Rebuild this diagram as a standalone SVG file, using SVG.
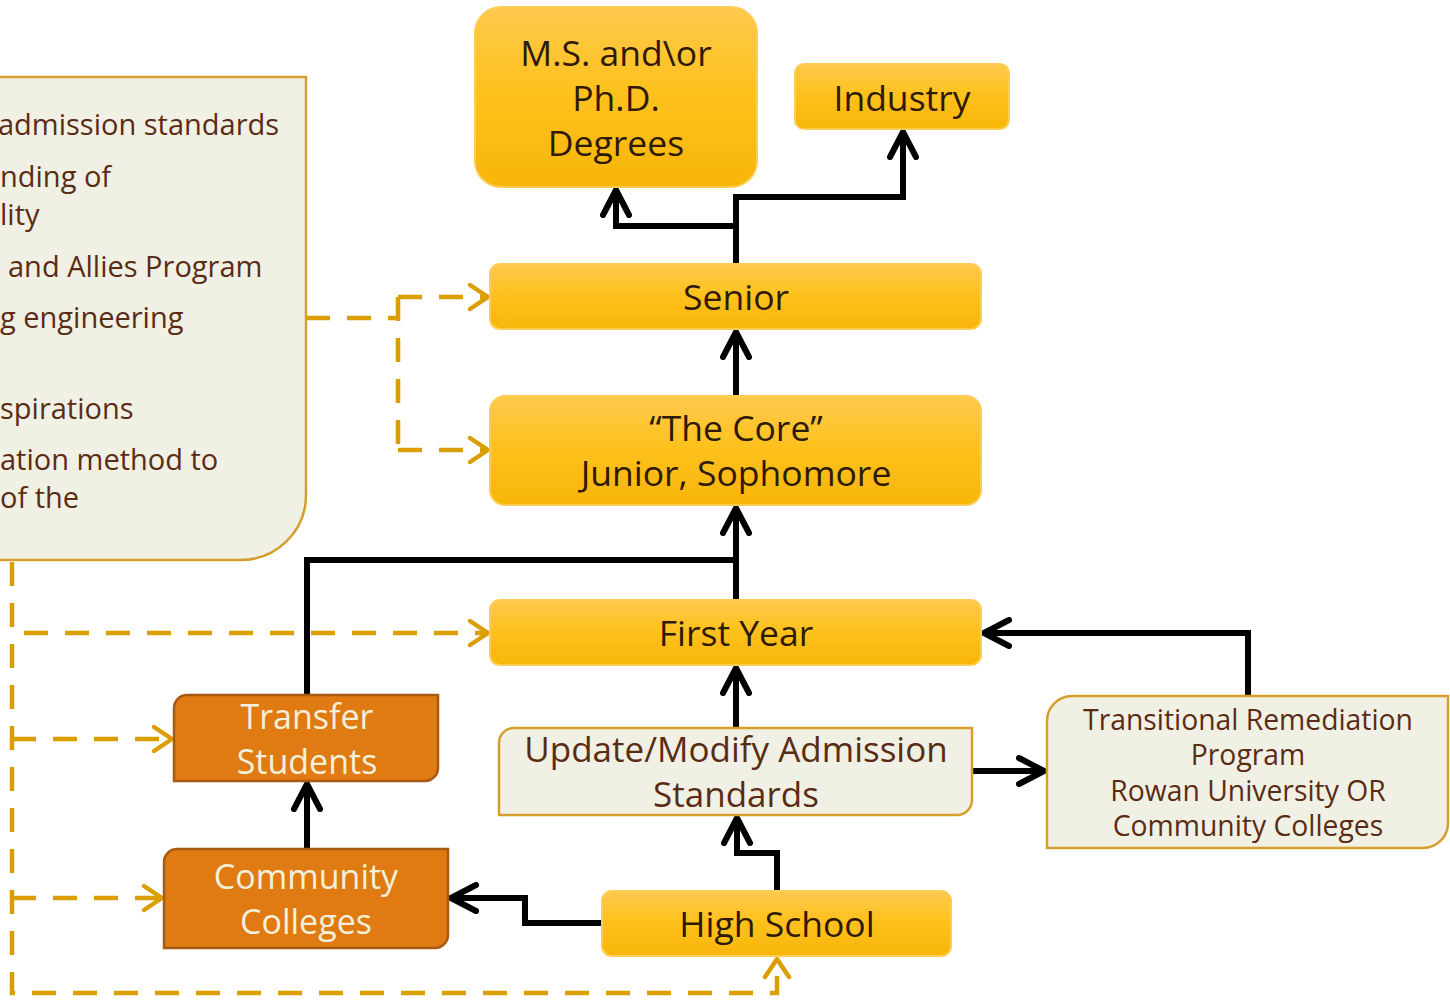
<svg xmlns="http://www.w3.org/2000/svg" width="1450" height="1000" viewBox="0 0 1450 1000">
  <defs>
    <linearGradient id="gold" x1="0" y1="0" x2="0" y2="1">
      <stop offset="0" stop-color="#FFC94F"/>
      <stop offset="0.45" stop-color="#FEC21E"/>
      <stop offset="1" stop-color="#F8B509"/>
    </linearGradient>
    <marker id="arrBlack" viewBox="0 0 32 32" refX="28" refY="16" markerWidth="32" markerHeight="32" markerUnits="userSpaceOnUse" orient="auto">
      <path d="M3,3 L28,16 L3,29" fill="none" stroke="#000" stroke-width="6" stroke-linecap="round" stroke-linejoin="round"/>
    </marker>
    <marker id="arrGold" viewBox="0 0 32 32" refX="26" refY="16" markerWidth="32" markerHeight="32" markerUnits="userSpaceOnUse" orient="auto">
      <path d="M8,4 L26,16 L8,28" fill="none" stroke="#DA9E00" stroke-width="4.5" stroke-linecap="round" stroke-linejoin="round"/>
    </marker>
  </defs>
  <style>
    text { font-family: "Open Sans", "DejaVu Sans", sans-serif; text-anchor: middle; }
    .yel { fill: url(#gold); stroke: #FFCC52; stroke-width: 2; }
    .yt { fill: #2E1A07; font-size: 35.5px; }
    .cream { fill: #F1F0E4; stroke: #D69E2C; stroke-width: 2.5; }
    .ct { fill: #5A2C14; }
    .orange { fill: #DF7B12; stroke: #A95A12; stroke-width: 2.5; }
    .ot { fill: #F3F0DA; font-size: 34px; }
    .side { fill: #5A2C14; font-size: 29px; text-anchor: start; }
    .link { fill: none; stroke: #000; stroke-width: 6; stroke-linejoin: miter; }
    .dash { fill: none; stroke: #DA9E00; stroke-width: 4.5; stroke-dasharray: 24 17; }
  </style>

  <!-- side panel with goals, cut at the left edge -->
  <g id="goals">
    <path class="cream" d="M-20,77 H306 V495 A65,65 0 0 1 241,560 H-20 Z"/>
    <text class="side" x="-2" y="135">admission standards</text>
    <text class="side" x="0" y="187">nding of</text>
    <text class="side" x="0" y="225">lity</text>
    <text class="side" x="8" y="277">and Allies Program</text>
    <text class="side" x="0" y="328">g engineering</text>
    <text class="side" x="0" y="419">spirations</text>
    <text class="side" x="0" y="470">ation method to</text>
    <text class="side" x="0" y="508">of the</text>
  </g>

  <!-- connectors -->
  <g id="connectors">
    <path class="link" d="M736,264 V226 H616 V190" marker-end="url(#arrBlack)"/>
    <path class="link" d="M736,226 V197 H903 V132" marker-end="url(#arrBlack)"/>
    <path class="link" d="M736,396 V332" marker-end="url(#arrBlack)"/>
    <path class="link" d="M736,600 V508" marker-end="url(#arrBlack)"/>
    <path class="link" d="M307,695 V560 H736"/>
    <path class="link" d="M736,728 V668" marker-end="url(#arrBlack)"/>
    <path class="link" d="M777,891 V853 H737 V818" marker-end="url(#arrBlack)"/>
    <path class="link" d="M602,923 H525 V898 H451" marker-end="url(#arrBlack)"/>
    <path class="link" d="M307,849 V784" marker-end="url(#arrBlack)"/>
    <path class="link" d="M972,771 H1044" marker-end="url(#arrBlack)"/>
    <path class="link" d="M1248,696 V633 H984" marker-end="url(#arrBlack)"/>

    <path class="dash" d="M306,318 H398"/>
    <path class="dash" d="M398,297 V450"/>
    <path class="dash" d="M398,297 H488" marker-end="url(#arrGold)"/>
    <path class="dash" d="M398,450 H488" marker-end="url(#arrGold)"/>
    <path class="dash" d="M12,562 V993 H777 V959" marker-end="url(#arrGold)"/>
    <path class="dash" d="M24,633 H488" marker-end="url(#arrGold)"/>
    <path class="dash" d="M12,739 H172" marker-end="url(#arrGold)"/>
    <path class="dash" d="M12,898 H162" marker-end="url(#arrGold)"/>
  </g>

  <g id="degrees">
    <rect class="yel" x="475" y="7" width="282" height="180" rx="26"/>
    <text class="yt" x="616" y="66">M.S. and\or</text>
    <text class="yt" x="616" y="111">Ph.D.</text>
    <text class="yt" x="616" y="156">Degrees</text>
  </g>
  <g id="industry">
    <rect class="yel" x="795" y="64" width="214" height="65" rx="9"/>
    <text class="yt" x="902" y="111">Industry</text>
  </g>
  <g id="senior">
    <rect class="yel" x="490" y="264" width="491" height="65" rx="10"/>
    <text class="yt" x="736" y="310">Senior</text>
  </g>
  <g id="core">
    <rect class="yel" x="490" y="396" width="491" height="109" rx="15"/>
    <text class="yt" x="736" y="441">“The Core”</text>
    <text class="yt" x="736" y="486">Junior, Sophomore</text>
  </g>
  <g id="first-year">
    <rect class="yel" x="490" y="600" width="491" height="65" rx="10"/>
    <text class="yt" x="736" y="646">First Year</text>
  </g>
  <g id="admission">
    <path class="cream" d="M514,728 H972 V800 A15,15 0 0 1 957,815 H499 V743 A15,15 0 0 1 514,728 Z"/>
    <text class="ct" x="736" y="762" font-size="35">Update/Modify Admission</text>
    <text class="ct" x="736" y="807" font-size="35">Standards</text>
  </g>
  <g id="remediation">
    <path class="cream" d="M1072,696 H1448 V823 A25,25 0 0 1 1423,848 H1047 V721 A25,25 0 0 1 1072,696 Z"/>
    <text class="ct" x="1248" y="730" font-size="28.3">Transitional Remediation</text>
    <text class="ct" x="1248" y="765" font-size="28.3">Program</text>
    <text class="ct" x="1248" y="801" font-size="28.3">Rowan University OR</text>
    <text class="ct" x="1248" y="836" font-size="28.3">Community Colleges</text>
  </g>
  <g id="high-school">
    <rect class="yel" x="602" y="891" width="349" height="65" rx="10"/>
    <text class="yt" x="777" y="937">High School</text>
  </g>
  <g id="transfer">
    <path class="orange" d="M187,695 H438 V768 A13,13 0 0 1 425,781 H174 V708 A13,13 0 0 1 187,695 Z"/>
    <text class="ot" x="307" y="729">Transfer</text>
    <text class="ot" x="307" y="774">Students</text>
  </g>
  <g id="community">
    <path class="orange" d="M177,849 H448 V935 A13,13 0 0 1 435,948 H164 V862 A13,13 0 0 1 177,849 Z"/>
    <text class="ot" x="306" y="889">Community</text>
    <text class="ot" x="306" y="934">Colleges</text>
  </g>
</svg>
